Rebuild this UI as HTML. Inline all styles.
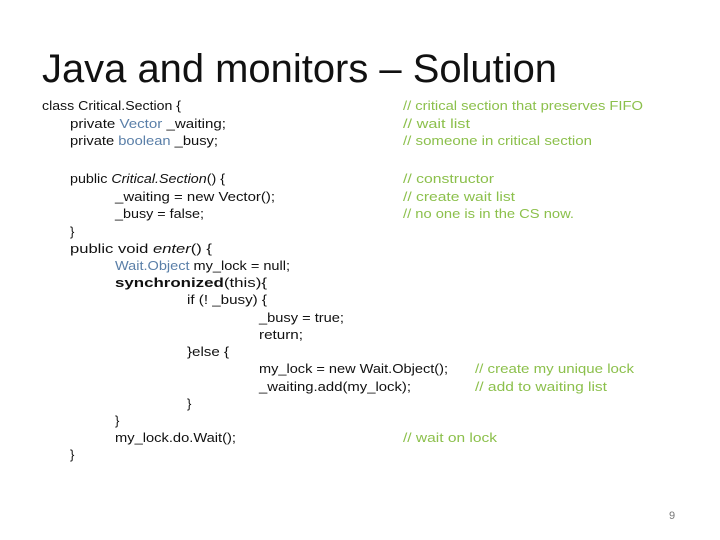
<!DOCTYPE html>
<html><head><meta charset="utf-8"><style>html,body{margin:0;padding:0;background:#fff}svg{display:block}</style></head>
<body>
<svg width="720" height="540" viewBox="0 0 720 540" xmlns="http://www.w3.org/2000/svg" font-family="Liberation Sans, sans-serif">
<rect width="720" height="540" fill="#fff"/>
<text x="42" y="82" font-size="40" fill="#111" textLength="515" lengthAdjust="spacingAndGlyphs">Java and monitors – Solution</text>
<g font-size="13" fill="#111" lengthAdjust="spacingAndGlyphs">
<text x="42" y="110" textLength="139" lengthAdjust="spacingAndGlyphs">class Critical.Section {</text>
<text x="70" y="128" textLength="156" lengthAdjust="spacingAndGlyphs">private <tspan fill="#5a7fa8">Vector</tspan> _waiting;</text>
<text x="70" y="145" textLength="148" lengthAdjust="spacingAndGlyphs">private <tspan fill="#5a7fa8">boolean</tspan> _busy;</text>
<text x="70" y="183" textLength="155" lengthAdjust="spacingAndGlyphs">public <tspan font-style="italic">Critical.Section</tspan>() {</text>
<text x="115" y="201" textLength="160" lengthAdjust="spacingAndGlyphs">_waiting = new Vector();</text>
<text x="115" y="218" textLength="89" lengthAdjust="spacingAndGlyphs">_busy = false;</text>
<text x="70" y="236">}</text>
<text x="70" y="253" textLength="142" lengthAdjust="spacingAndGlyphs">public void <tspan font-style="italic">enter</tspan>() {</text>
<text x="115" y="270" textLength="175" lengthAdjust="spacingAndGlyphs"><tspan fill="#5a7fa8">Wait.Object</tspan> my_lock = null;</text>
<text x="115" y="287" textLength="152" lengthAdjust="spacingAndGlyphs"><tspan font-weight="bold">synchronized</tspan>(this){</text>
<text x="187" y="304" textLength="80" lengthAdjust="spacingAndGlyphs">if (! _busy) {</text>
<text x="259" y="322" textLength="85" lengthAdjust="spacingAndGlyphs">_busy = true;</text>
<text x="259" y="339" textLength="44" lengthAdjust="spacingAndGlyphs">return;</text>
<text x="187" y="356" textLength="42" lengthAdjust="spacingAndGlyphs">}else {</text>
<text x="259" y="373" textLength="189" lengthAdjust="spacingAndGlyphs">my_lock = new Wait.Object();</text>
<text x="259" y="391" textLength="152" lengthAdjust="spacingAndGlyphs">_waiting.add(my_lock);</text>
<text x="187" y="408">}</text>
<text x="115" y="425">}</text>
<text x="115" y="442" textLength="121" lengthAdjust="spacingAndGlyphs">my_lock.do.Wait();</text>
<text x="70" y="459">}</text>
</g>
<g font-size="13" fill="#8cc04c">
<text x="403" y="110" textLength="240" lengthAdjust="spacingAndGlyphs">// critical section that preserves FIFO</text>
<text x="403" y="128" textLength="67" lengthAdjust="spacingAndGlyphs">// wait list</text>
<text x="403" y="145" textLength="189" lengthAdjust="spacingAndGlyphs">// someone in critical section</text>
<text x="403" y="183" textLength="91" lengthAdjust="spacingAndGlyphs">// constructor</text>
<text x="403" y="201" textLength="112" lengthAdjust="spacingAndGlyphs">// create wait list</text>
<text x="403" y="218" textLength="171" lengthAdjust="spacingAndGlyphs">// no one is in the CS now.</text>
<text x="475" y="373" textLength="159" lengthAdjust="spacingAndGlyphs">// create my unique lock</text>
<text x="475" y="391" textLength="132" lengthAdjust="spacingAndGlyphs">// add to waiting list</text>
<text x="403" y="442" textLength="94" lengthAdjust="spacingAndGlyphs">// wait on lock</text>
</g>
<text x="669" y="519" font-size="11" fill="#777">9</text>
</svg>
</body></html>
